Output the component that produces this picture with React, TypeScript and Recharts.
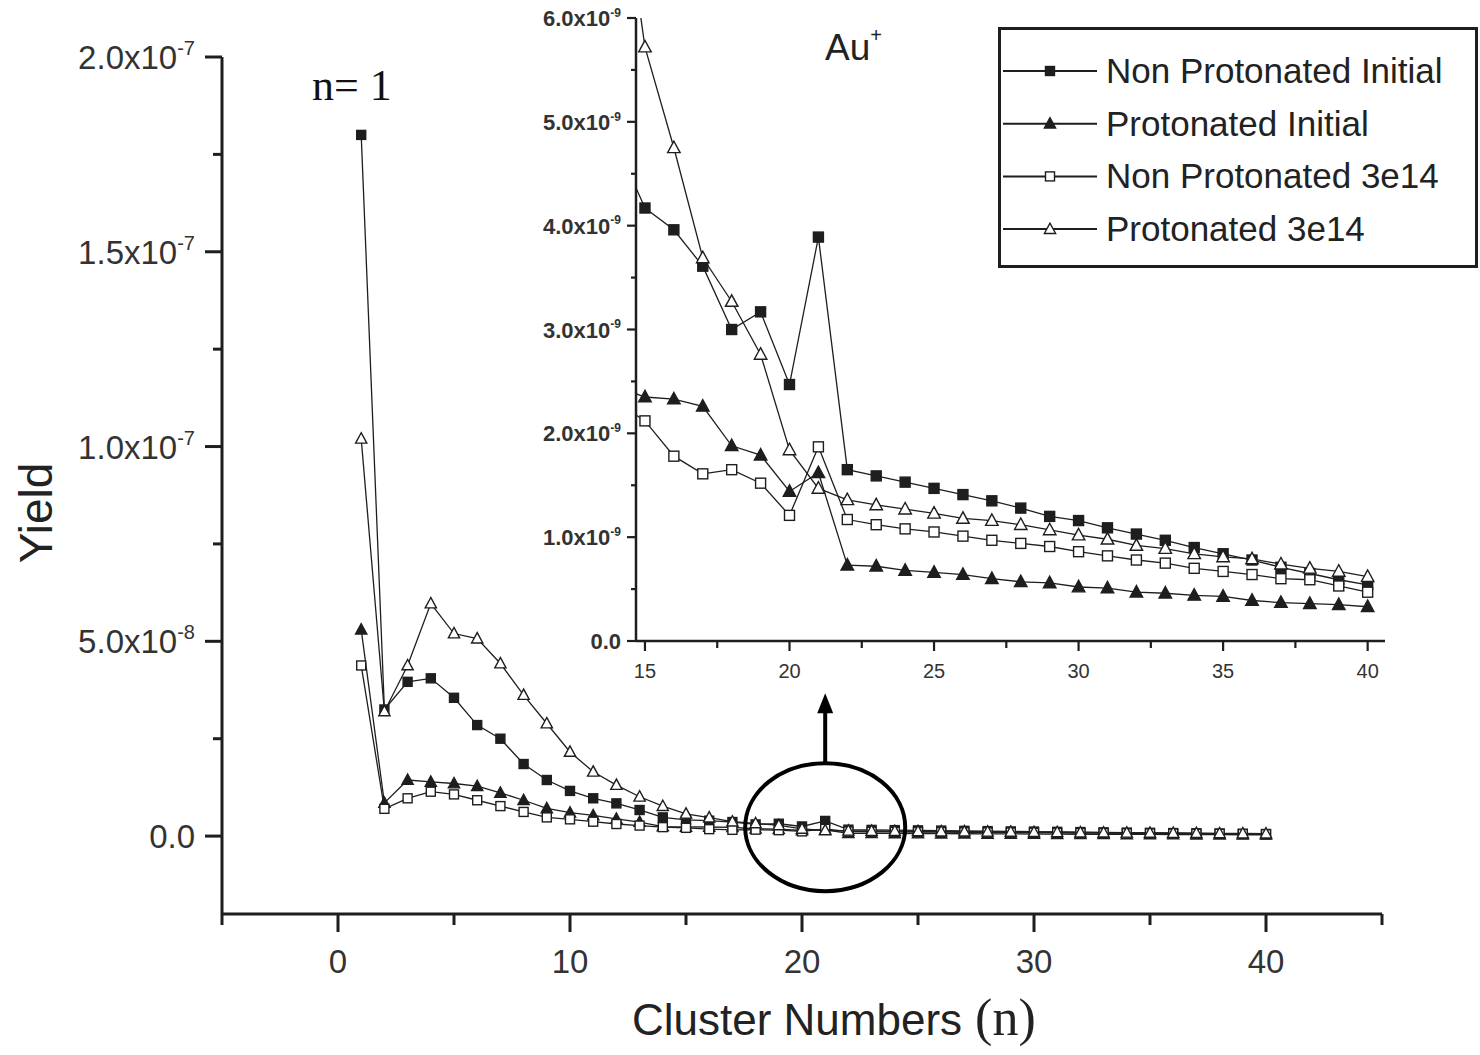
import React from "react";
import { LineChart, Line, XAxis, YAxis, ReferenceDot, Legend } from "recharts";

// cluster size n = 1..40
const clusterN = [
  1, 2, 3, 4, 5, 6, 7, 8, 9, 10, 11, 12, 13, 14, 15, 16, 17, 18, 19, 20,
  21, 22, 23, 24, 25, 26, 27, 28, 29, 30, 31, 32, 33, 34, 35, 36, 37, 38, 39, 40,
];

const nonProtInitial = [
  1.8e-7, 3.25e-8, 3.96e-8, 4.05e-8, 3.55e-8, 2.85e-8, 2.5e-8, 1.85e-8, 1.44e-8, 1.16e-8,
  9.7e-9, 8.4e-9, 6.7e-9, 4.8e-9, 4.17e-9, 3.96e-9, 3.61e-9, 3.0e-9, 3.17e-9, 2.47e-9,
  3.89e-9, 1.65e-9, 1.59e-9, 1.53e-9, 1.47e-9, 1.41e-9, 1.35e-9, 1.28e-9, 1.2e-9, 1.16e-9,
  1.09e-9, 1.03e-9, 0.97e-9, 0.9e-9, 0.84e-9, 0.78e-9, 0.71e-9, 0.65e-9, 0.59e-9, 0.54e-9,
];

const protInitial = [
  5.3e-8, 8.5e-9, 1.44e-8, 1.39e-8, 1.35e-8, 1.28e-8, 1.11e-8, 9.2e-9, 7.1e-9, 6.0e-9,
  5.3e-9, 4.4e-9, 3.6e-9, 2.45e-9, 2.35e-9, 2.33e-9, 2.26e-9, 1.88e-9, 1.79e-9, 1.44e-9,
  1.62e-9, 0.73e-9, 0.72e-9, 0.68e-9, 0.66e-9, 0.64e-9, 0.6e-9, 0.57e-9, 0.56e-9, 0.52e-9,
  0.51e-9, 0.47e-9, 0.46e-9, 0.44e-9, 0.43e-9, 0.39e-9, 0.37e-9, 0.36e-9, 0.35e-9, 0.33e-9,
];

const nonProt3e14 = [
  4.38e-8, 7e-9, 9.7e-9, 1.14e-8, 1.07e-8, 9.2e-9, 7.7e-9, 6.2e-9, 4.8e-9, 4.3e-9,
  3.7e-9, 3.1e-9, 2.7e-9, 2.3e-9, 2.12e-9, 1.78e-9, 1.61e-9, 1.65e-9, 1.52e-9, 1.21e-9,
  1.87e-9, 1.17e-9, 1.12e-9, 1.08e-9, 1.05e-9, 1.01e-9, 0.97e-9, 0.94e-9, 0.91e-9, 0.86e-9,
  0.82e-9, 0.78e-9, 0.75e-9, 0.7e-9, 0.67e-9, 0.64e-9, 0.6e-9, 0.59e-9, 0.53e-9, 0.47e-9,
];

const prot3e14 = [
  1.02e-7, 3.2e-8, 4.38e-8, 5.97e-8, 5.2e-8, 5.07e-8, 4.43e-8, 3.62e-8, 2.89e-8, 2.16e-8,
  1.65e-8, 1.31e-8, 1.01e-8, 7.7e-9, 5.72e-9, 4.75e-9, 3.69e-9, 3.27e-9, 2.76e-9, 1.84e-9,
  1.47e-9, 1.36e-9, 1.31e-9, 1.27e-9, 1.23e-9, 1.18e-9, 1.16e-9, 1.12e-9, 1.07e-9, 1.02e-9,
  0.98e-9, 0.92e-9, 0.89e-9, 0.84e-9, 0.81e-9, 0.79e-9, 0.74e-9, 0.7e-9, 0.67e-9, 0.62e-9,
];

const mainXTicks = [-5, 0, 5, 10, 15, 20, 25, 30, 35, 40, 45];
const mainYTicks = [0, 2.5e-8, 5e-8, 7.5e-8, 1e-7, 1.25e-7, 1.5e-7, 1.75e-7, 2e-7];
const insetXTicks = [15, 17.5, 20, 22.5, 25, 27.5, 30, 32.5, 35, 37.5, 40];
const insetYTicks = [0, 0.5e-9, 1e-9, 1.5e-9, 2e-9, 2.5e-9, 3e-9, 3.5e-9, 4e-9, 4.5e-9, 5e-9, 5.5e-9, 6e-9];

const series = [
  { key: "npi", name: "Non Protonated Initial", shape: "square", filled: true },
  { key: "pi", name: "Protonated Initial", shape: "triangle", filled: true },
  { key: "np3", name: "Non Protonated 3e14", shape: "square", filled: false },
  { key: "p3", name: "Protonated 3e14", shape: "triangle", filled: false },
];

const data = clusterN.map((n, i) => ({
  n,
  npi: nonProtInitial[i],
  pi: protInitial[i],
  np3: nonProt3e14[i],
  p3: prot3e14[i],
}));

const INK = "#1e1e1e";
const SANS = "'Liberation Sans', Arial, Helvetica, sans-serif";
const SERIF = "'Liberation Serif', 'Times New Roman', serif";

function Marker({ cx, cy, shape, filled, s }: any) {
  if (cx == null || cy == null || isNaN(cx) || isNaN(cy)) return null;
  const fill = filled ? INK : "#fff";
  if (shape === "square") {
    return (
      <rect x={cx - s / 2} y={cy - s / 2} width={s} height={s} fill={fill} stroke={INK} strokeWidth={1.4} />
    );
  }
  const w = s * 1.25;
  const h = s * 1.15;
  return (
    <polygon
      points={`${cx},${cy - h * 0.58} ${cx - w / 2},${cy + h * 0.42} ${cx + w / 2},${cy + h * 0.42}`}
      fill={fill}
      stroke={INK}
      strokeWidth={1.4}
      strokeLinejoin="miter"
    />
  );
}

function sci(v: number) {
  const e = Math.floor(Math.log10(Math.abs(v)) + 1e-9);
  const m = v / Math.pow(10, e);
  return { m: m.toFixed(1), e: String(e) };
}

function SciText({ x, y, v, size, sup, weight }: any) {
  if (Math.abs(v) < 1e-15) {
    return (
      <text x={x} y={y} textAnchor="end" fontSize={size} fontFamily={SANS} fontWeight={weight} fill="#333">
        0.0
      </text>
    );
  }
  const { m, e } = sci(v);
  return (
    <text x={x} y={y} textAnchor="end" fontSize={size} fontFamily={SANS} fontWeight={weight} fill="#333">
      <tspan>{m}x10</tspan>
      <tspan dy={-size * 0.42} fontSize={sup}>
        {e}
      </tspan>
    </text>
  );
}

const isMultiple = (v: number, step: number) => Math.abs(v / step - Math.round(v / step)) < 1e-6;

function MainYTick({ x, y, payload }: any) {
  const major = isMultiple(payload.value, 5e-8);
  return (
    <g>
      <line x1={x} x2={x - (major ? 17 : 9)} y1={y} y2={y} stroke={INK} strokeWidth={3} />
      {major && <SciText x={x - 27} y={y + 12} v={payload.value} size={33} sup={20} />}
    </g>
  );
}

function MainXTick({ x, y, payload }: any) {
  const v = payload.value;
  const major = isMultiple(v, 10) && v >= 0 && v <= 40;
  return (
    <g>
      <line x1={x} x2={x} y1={y} y2={y + (major ? 18 : 11)} stroke={INK} strokeWidth={3} />
      {major && (
        <text x={x} y={y + 59} textAnchor="middle" fontSize={33} fontFamily={SANS} fill="#333">
          {v}
        </text>
      )}
    </g>
  );
}

function InsetYTick({ x, y, payload }: any) {
  const major = isMultiple(payload.value, 1e-9);
  return (
    <g>
      <line x1={x} x2={x - (major ? 9 : 5)} y1={y} y2={y} stroke={INK} strokeWidth={2.2} />
      {major && <SciText x={x - 15} y={y + 8} v={payload.value} size={22} sup={12} weight="bold" />}
    </g>
  );
}

function InsetXTick({ x, y, payload }: any) {
  const major = isMultiple(payload.value, 5);
  return (
    <g>
      <line x1={x} x2={x} y1={y} y2={y + (major ? 10 : 7)} stroke={INK} strokeWidth={2.2} />
      {major && (
        <text x={x} y={y + 37} textAnchor="middle" fontSize={20} fontFamily={SANS} fill="#333">
          {payload.value}
        </text>
      )}
    </g>
  );
}

function LegendBox() {
  return (
    <svg width={480} height={242} style={{ display: "block" }}>
      <rect x={1.5} y={1.5} width={477} height={238} fill="#fff" stroke={INK} strokeWidth={3} />
      {series.map((s, i) => {
        const cy = 44 + i * 52.7;
        return (
          <g key={s.key}>
            <line x1={5} x2={99} y1={cy} y2={cy} stroke={INK} strokeWidth={2} />
            <Marker cx={52} cy={cy} shape={s.shape} filled={s.filled} s={9} />
            <text x={108} y={cy + 12} fontSize={35} fontFamily={SANS} fill="#222">
              {s.name}
            </text>
          </g>
        );
      })}
    </svg>
  );
}

function ZoomMark({ cx, cy }: any) {
  if (cx == null || cy == null) return null;
  return (
    <g>
      <ellipse cx={cx} cy={cy} rx={80} ry={64} fill="none" stroke="#000" strokeWidth={4} />
      <line x1={cx} x2={cx} y1={cy - 64} y2={cy - 122} stroke="#000" strokeWidth={4} />
      <polygon points={`${cx},${cy - 134} ${cx - 8},${cy - 114} ${cx + 8},${cy - 114}`} fill="#000" />
    </g>
  );
}

function renderLines(size: number) {
  return series.map((s) => (
    <Line
      key={s.key}
      type="linear"
      dataKey={s.key}
      name={s.name}
      stroke={INK}
      strokeWidth={1.3}
      isAnimationActive={false}
      dot={(p: any) => (
        <Marker key={`${s.key}-${p.index}`} cx={p.cx} cy={p.cy} shape={s.shape} filled={s.filled} s={size} />
      )}
      activeDot={false}
    />
  ));
}

export default function App() {
  return (
    <div style={{ position: "absolute", left: 0, top: 0, width: 1480, height: 1055, background: "#fff" }}>
      <div style={{ position: "absolute", left: 0, top: 0 }}>
        <LineChart width={1480} height={1055} data={data} margin={{ top: 57, right: 98, bottom: 111, left: 162 }}>
          <XAxis
            type="number"
            dataKey="n"
            domain={[-5, 45]}
            ticks={mainXTicks}
            allowDataOverflow
            height={30}
            tickSize={0}
            tickMargin={0}
            tickLine={false}
            axisLine={{ stroke: INK, strokeWidth: 3 }}
            tick={<MainXTick />}
            interval={0}
          />
          <YAxis
            type="number"
            domain={[-2e-8, 2e-7]}
            ticks={mainYTicks}
            allowDataOverflow
            width={60}
            tickSize={0}
            tickMargin={0}
            tickLine={false}
            axisLine={{ stroke: INK, strokeWidth: 3 }}
            tick={<MainYTick />}
            interval={0}
          />
          {renderLines(9)}
          <ReferenceDot x={21} y={2.3e-9} r={0} shape={(p: any) => <ZoomMark cx={p.cx} cy={p.cy} />} />
          <Legend
            layout="vertical"
            align="center"
            verticalAlign="middle"
            content={() => <LegendBox />}
            wrapperStyle={{ left: 998, top: 27, width: 480, height: 242 }}
          />
          <text x={52} y={513} transform="rotate(-90 52 513)" textAnchor="middle" fontSize={46} fontFamily={SANS} fill="#222">
            Yield
          </text>
          <text x={632} y={1035} fill="#222">
            <tspan fontSize={44} fontFamily={SANS}>Cluster Numbers</tspan>
            <tspan fontSize={52} fontFamily={SERIF}> (n)</tspan>
          </text>
          <text x={312} y={100} fontSize={44} fontFamily={SERIF} fill="#111">
            n= 1
          </text>
          <text x={825} y={60} fontSize={37} fontFamily={SANS} fill="#222">
            Au
            <tspan dy={-18} fontSize={20}>+</tspan>
          </text>
        </LineChart>
      </div>
      <div style={{ position: "absolute", left: 536, top: 0 }}>
        <LineChart width={870} height={700} data={data} margin={{ top: 18, right: 21, bottom: 29, left: 40 }}>
          <XAxis
            type="number"
            dataKey="n"
            domain={[14.69, 40.6]}
            ticks={insetXTicks}
            allowDataOverflow
            height={30}
            tickSize={0}
            tickMargin={0}
            tickLine={false}
            axisLine={{ stroke: INK, strokeWidth: 2.5 }}
            tick={<InsetXTick />}
            interval={0}
          />
          <YAxis
            type="number"
            domain={[0, 6e-9]}
            ticks={insetYTicks}
            allowDataOverflow
            width={60}
            tickSize={0}
            tickMargin={0}
            tickLine={false}
            axisLine={{ stroke: INK, strokeWidth: 2.5 }}
            tick={<InsetYTick />}
            interval={0}
          />
          {renderLines(10)}
        </LineChart>
      </div>
    </div>
  );
}
